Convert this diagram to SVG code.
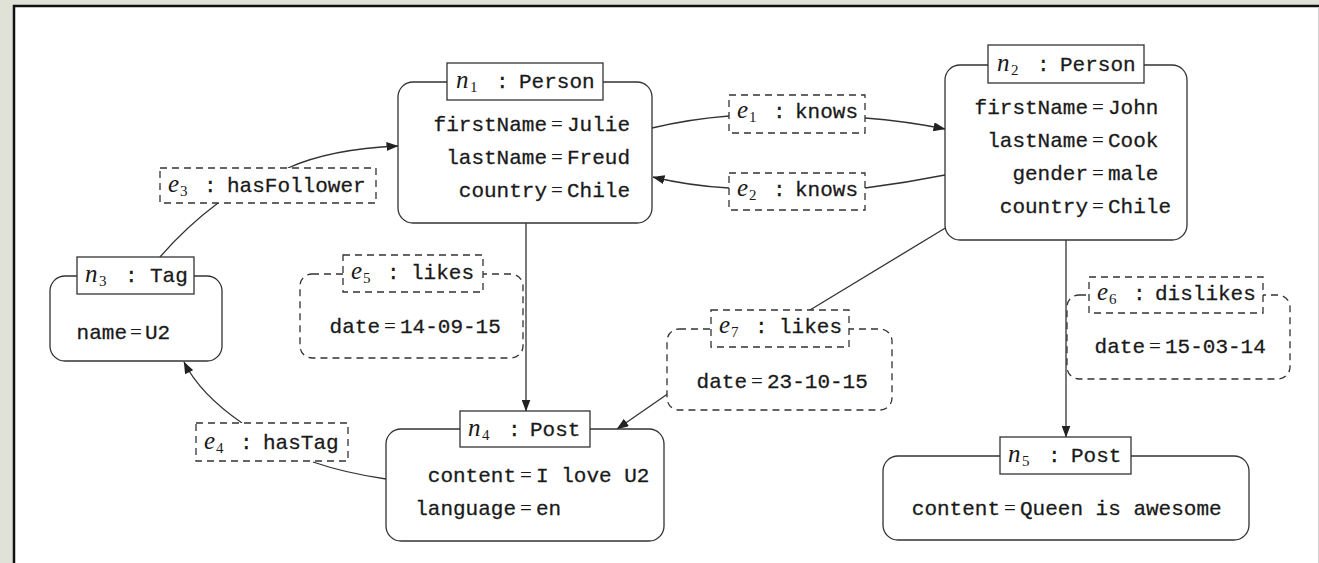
<svg xmlns="http://www.w3.org/2000/svg" width="1319" height="563" viewBox="0 0 1319 563">
  <style>
    .node { fill: #fff; stroke: #333; stroke-width: 1.3; }
    .ttl { fill: #fff; stroke: #333; stroke-width: 1.3; }
    .dash { fill: #fff; stroke: #333; stroke-width: 1.3; stroke-dasharray: 7 5; }
    .wire { fill: none; stroke: #333; stroke-width: 1.3; }
    text { fill: #1a1a1a; }
    .tt { font-family: "Liberation Mono", "DejaVu Sans Mono", monospace; font-size: 21px; stroke: #1a1a1a; stroke-width: 0.28; }
    .mi { font-family: "Liberation Serif", "DejaVu Serif", serif; font-style: italic; font-size: 25px; }
    .sub { font-family: "Liberation Serif", "DejaVu Serif", serif; font-size: 15px; }
    .eq { font-family: "Liberation Serif", "DejaVu Serif", serif; font-size: 21px; text-anchor: middle; }
    .k { text-anchor: end; }
  </style>
  <defs>
    <marker id="arrow" viewBox="0 0 12 9" refX="11.5" refY="4.5" markerWidth="12" markerHeight="9" markerUnits="userSpaceOnUse" orient="auto">
      <path d="M0,0 L12,4.5 L0,9 z" fill="#222"/>
    </marker>
  </defs>

  <!-- page frame -->
  <rect x="0" y="0" width="1319" height="563" fill="#e1e2d7"/>
  <rect x="14" y="6" width="1304" height="557" fill="#fff"/>
  <line x1="13" y1="6" x2="1319" y2="6" stroke="#111" stroke-width="2.5"/>
  <line x1="14" y1="5" x2="14" y2="563" stroke="#111" stroke-width="2.5"/>
  <line x1="1318.5" y1="7" x2="1318.5" y2="563" stroke="#d4d4d4" stroke-width="1"/>

  <!-- connectors -->
  <g id="edges">
    <!-- e1 knows: n1 -> n2 -->
    <path class="wire" d="M652,128 Q690,119 729,116"/>
    <path class="wire" d="M865,118 Q905,121 945,129" marker-end="url(#arrow)"/>
    <!-- e2 knows: n2 -> n1 -->
    <path class="wire" d="M945,175 Q905,183 865,188"/>
    <path class="wire" d="M729,188 Q690,186 653,177" marker-end="url(#arrow)"/>
    <!-- e3 hasFollower: n3 -> n1 -->
    <path class="wire" d="M160,257 Q186,227 218,203"/>
    <path class="wire" d="M288,168 Q330,149 398,146" marker-end="url(#arrow)"/>
    <!-- e4 hasTag: n4 -> n3 -->
    <path class="wire" d="M386,479 Q345,473 313,462"/>
    <path class="wire" d="M242,423 Q200,394 184,362" marker-end="url(#arrow)"/>
    <!-- e5 likes: n1 -> n4 -->
    <path class="wire" d="M526,223 L526,411" marker-end="url(#arrow)"/>
    <!-- e6 dislikes: n2 -> n5 -->
    <path class="wire" d="M1066,240 L1066,437" marker-end="url(#arrow)"/>
    <!-- e7 likes: n2 -> n4 -->
    <path class="wire" d="M947,227 L810,310"/>
    <path class="wire" d="M669,393 L617,429" marker-end="url(#arrow)"/>
  </g>

  <!-- edge labels -->
  <g id="e1">
    <rect class="dash" x="729" y="95" width="136" height="38"/>
    <text y="118"><tspan class="mi" x="737">e</tspan><tspan class="sub" x="749" dy="4">1</tspan><tspan class="tt" x="773" dy="-4">:</tspan><tspan class="tt" x="795">knows</tspan></text>
  </g>
  <g id="e2">
    <rect class="dash" x="729" y="173" width="136" height="37"/>
    <text y="196"><tspan class="mi" x="737">e</tspan><tspan class="sub" x="749" dy="4">2</tspan><tspan class="tt" x="773" dy="-4">:</tspan><tspan class="tt" x="795">knows</tspan></text>
  </g>
  <g id="e3">
    <rect class="dash" x="160" y="168" width="216" height="35"/>
    <text y="192"><tspan class="mi" x="168">e</tspan><tspan class="sub" x="180" dy="4">3</tspan><tspan class="tt" x="204" dy="-4">:</tspan><tspan class="tt" x="227">hasFollower</tspan></text>
  </g>
  <g id="e4">
    <rect class="dash" x="196" y="423" width="152" height="38"/>
    <text y="449"><tspan class="mi" x="204">e</tspan><tspan class="sub" x="216" dy="4">4</tspan><tspan class="tt" x="240" dy="-4">:</tspan><tspan class="tt" x="263">hasTag</tspan></text>
  </g>
  <g id="e5">
    <rect class="dash" x="300" y="274" width="223" height="84" rx="12"/>
    <rect class="dash" x="343" y="255" width="140" height="37"/>
    <text y="279"><tspan class="mi" x="351">e</tspan><tspan class="sub" x="363" dy="4">5</tspan><tspan class="tt" x="387" dy="-4">:</tspan><tspan class="tt" x="411">likes</tspan></text>
    <text class="tt k" x="380" y="333">date</text>
    <text class="eq" x="390" y="333">=</text>
    <text class="tt" x="400" y="333">14-09-15</text>
  </g>
  <g id="e6">
    <rect class="dash" x="1067" y="295" width="223" height="84" rx="12"/>
    <rect class="dash" x="1089" y="277" width="174" height="36"/>
    <text y="300"><tspan class="mi" x="1097">e</tspan><tspan class="sub" x="1109" dy="4">6</tspan><tspan class="tt" x="1133" dy="-4">:</tspan><tspan class="tt" x="1155">dislikes</tspan></text>
    <text class="tt k" x="1145" y="353">date</text>
    <text class="eq" x="1155" y="353">=</text>
    <text class="tt" x="1165" y="353">15-03-14</text>
  </g>
  <g id="e7">
    <rect class="dash" x="667" y="329" width="225" height="81" rx="12"/>
    <rect class="dash" x="711" y="310" width="138" height="37"/>
    <text y="333"><tspan class="mi" x="719">e</tspan><tspan class="sub" x="731" dy="4">7</tspan><tspan class="tt" x="755" dy="-4">:</tspan><tspan class="tt" x="779">likes</tspan></text>
    <text class="tt k" x="747" y="388">date</text>
    <text class="eq" x="757" y="388">=</text>
    <text class="tt" x="767" y="388">23-10-15</text>
  </g>

  <!-- nodes -->
  <g id="n1">
    <rect class="node" x="398" y="82" width="254" height="141" rx="15"/>
    <rect class="ttl" x="447" y="63" width="156" height="37"/>
    <text y="88"><tspan class="mi" x="456">n</tspan><tspan class="sub" x="470" dy="4">1</tspan><tspan class="tt" x="496" dy="-4">:</tspan><tspan class="tt" x="519">Person</tspan></text>
    <text class="tt k" x="547" y="131">firstName</text>
    <text class="eq" x="557" y="131">=</text>
    <text class="tt" x="567" y="131">Julie</text>
    <text class="tt k" x="547" y="164">lastName</text>
    <text class="eq" x="557" y="164">=</text>
    <text class="tt" x="567" y="164">Freud</text>
    <text class="tt k" x="547" y="197">country</text>
    <text class="eq" x="557" y="197">=</text>
    <text class="tt" x="567" y="197">Chile</text>
  </g>
  <g id="n2">
    <rect class="node" x="945" y="65" width="242" height="175" rx="15"/>
    <rect class="ttl" x="988" y="45" width="156" height="38"/>
    <text y="71"><tspan class="mi" x="997">n</tspan><tspan class="sub" x="1011" dy="4">2</tspan><tspan class="tt" x="1037" dy="-4">:</tspan><tspan class="tt" x="1060">Person</tspan></text>
    <text class="tt k" x="1088" y="114">firstName</text>
    <text class="eq" x="1098" y="114">=</text>
    <text class="tt" x="1108" y="114">John</text>
    <text class="tt k" x="1088" y="147">lastName</text>
    <text class="eq" x="1098" y="147">=</text>
    <text class="tt" x="1108" y="147">Cook</text>
    <text class="tt k" x="1088" y="180">gender</text>
    <text class="eq" x="1098" y="180">=</text>
    <text class="tt" x="1108" y="180">male</text>
    <text class="tt k" x="1088" y="213">country</text>
    <text class="eq" x="1098" y="213">=</text>
    <text class="tt" x="1108" y="213">Chile</text>
  </g>
  <g id="n3">
    <rect class="node" x="50" y="276" width="172" height="85" rx="15"/>
    <rect class="ttl" x="77" y="257" width="117" height="37"/>
    <text y="282"><tspan class="mi" x="85">n</tspan><tspan class="sub" x="99" dy="4">3</tspan><tspan class="tt" x="125" dy="-4">:</tspan><tspan class="tt" x="150">Tag</tspan></text>
    <text class="tt k" x="127" y="339">name</text>
    <text class="eq" x="136" y="339">=</text>
    <text class="tt" x="145" y="339">U2</text>
  </g>
  <g id="n4">
    <rect class="node" x="386" y="429" width="278" height="112" rx="15"/>
    <rect class="ttl" x="460" y="411" width="130" height="36"/>
    <text y="436"><tspan class="mi" x="468">n</tspan><tspan class="sub" x="482" dy="4">4</tspan><tspan class="tt" x="508" dy="-4">:</tspan><tspan class="tt" x="530">Post</tspan></text>
    <text class="tt k" x="516" y="482">content</text>
    <text class="eq" x="526" y="482">=</text>
    <text class="tt" x="536" y="482">I love U2</text>
    <text class="tt k" x="516" y="515">language</text>
    <text class="eq" x="526" y="515">=</text>
    <text class="tt" x="536" y="515">en</text>
  </g>
  <g id="n5">
    <rect class="node" x="883" y="456" width="366" height="84" rx="15"/>
    <rect class="ttl" x="1000" y="437" width="131" height="37"/>
    <text y="462"><tspan class="mi" x="1008">n</tspan><tspan class="sub" x="1022" dy="4">5</tspan><tspan class="tt" x="1048" dy="-4">:</tspan><tspan class="tt" x="1071">Post</tspan></text>
    <text class="tt k" x="1000" y="515">content</text>
    <text class="eq" x="1010" y="515">=</text>
    <text class="tt" x="1020" y="515">Queen is awesome</text>
  </g>
</svg>
